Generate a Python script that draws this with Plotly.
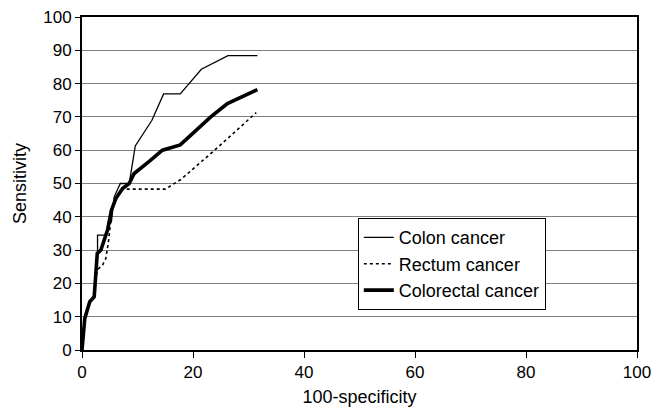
import plotly.graph_objects as go

colon_x = [0, 0.5, 1.4, 2.2, 2.5, 2.8, 2.8, 4.4, 4.8, 5.3, 5.8, 6.9, 8.5, 9.6, 12.6, 14.7, 17.7, 21.5, 26.3, 31.6]
colon_y = [0, 9, 14.5, 16, 22, 28, 34.5, 34.5, 38.5, 38.5, 46, 50, 50, 61.3, 69, 76.9, 76.9, 84.3, 88.4, 88.4]

rectum_x = [0, 0.5, 1.4, 2.2, 2.7, 3.7, 4.3, 4.8, 5.4, 6.5, 7.5, 15.0, 17.8, 24.1, 31.4]
rectum_y = [0, 9, 14.5, 16, 24, 25.5, 27.5, 33, 42, 47, 48.3, 48.3, 51.2, 60.3, 71.3]

colorectal_x = [0, 0.5, 1.4, 2.2, 2.75, 3.4, 4.6, 5.3, 6.1, 7.3, 8.5, 9.4, 12.0, 14.5, 17.7, 23.2, 26.2, 31.6]
colorectal_y = [0, 9.5, 14.5, 16, 29, 30, 36, 42, 45.5, 48.5, 50, 53, 56.5, 60, 61.6, 70, 74, 78.2]

x_ticks = [0, 20, 40, 60, 80, 100]
y_ticks = [0, 10, 20, 30, 40, 50, 60, 70, 80, 90, 100]

FONT = "Arial, Liberation Sans, Helvetica, sans-serif"

fig = go.Figure()
fig.add_trace(go.Scatter(x=colon_x, y=colon_y, mode="lines", name="Colon cancer",
                         legendgroup="a", line=dict(color="black", width=1.3)))
fig.add_trace(go.Scatter(x=rectum_x, y=rectum_y, mode="lines", name="Rectum cancer",
                         legendgroup="b", line=dict(color="black", width=1.6, dash="dot")))
fig.add_trace(go.Scatter(x=colorectal_x, y=colorectal_y, mode="lines", name="Colorectal cancer",
                         legendgroup="c", line=dict(color="black", width=3.6)))

fig.update_layout(
    width=659, height=402,
    margin=dict(l=74, r=30, t=9, b=60),
    paper_bgcolor="white", plot_bgcolor="white",
    font=dict(family=FONT, size=17, color="black"),
    showlegend=True,
    legend=dict(x=0.497, y=0.396, xanchor="left", yanchor="top",
                bordercolor="black", borderwidth=1, bgcolor="white",
                font=dict(size=18), tracegroupgap=0, traceorder="grouped"),
    xaxis=dict(range=[0, 100], tickvals=x_ticks, showgrid=False, zeroline=False,
               automargin=False, tickfont=dict(size=17), ticklabeloverflow="allow",
               showline=True, linecolor="black", linewidth=2, mirror=True,
               ticks="outside", ticklen=6, tickwidth=1, tickcolor="black",
               title=dict(text="100-specificity", standoff=9, font=dict(size=18))),
    yaxis=dict(range=[0, 100], tickvals=y_ticks, showgrid=True, gridcolor="#7f7f7f",
               gridwidth=1, zeroline=False, automargin=False, tickfont=dict(size=17),
               ticklabeloverflow="allow",
               showline=True, linecolor="black", linewidth=2, mirror=True,
               ticks="outside", ticklen=5, tickwidth=1, tickcolor="black",
               title=dict(text="Sensitivity", standoff=12, font=dict(size=18))),
)

fig.write_html("out.html")
